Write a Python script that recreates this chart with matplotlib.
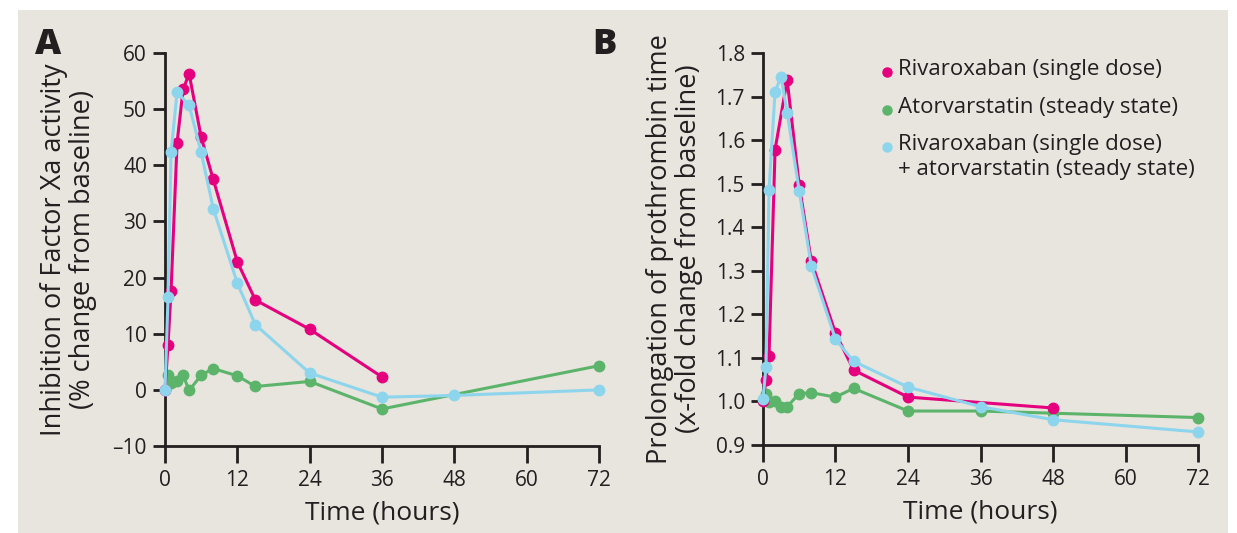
"""Rivaroxaban / atorvastatin interaction: Factor Xa inhibition and prothrombin time."""

import matplotlib

matplotlib.use("Agg")
import matplotlib.pyplot as plt
from matplotlib.patches import Rectangle

plt.rcParams["font.family"] = ["Open Sans", "DejaVu Sans"]

# Panel A: inhibition of Factor Xa activity (% change from baseline)
riva_t_a = [0, 0.5, 1, 2, 3, 4, 6, 8, 12, 15, 24, 36]
riva_a = [0, 8, 17.6, 44, 53.5, 56.3, 45, 37.5, 22.8, 16, 10.8, 2.3]
ator_t_a = [0.5, 1, 2, 3, 4, 6, 8, 12, 15, 24, 36, 72]
ator_a = [2.7, 1.3, 1.5, 2.6, -0.1, 2.6, 3.8, 2.5, 0.6, 1.5, -3.4, 4.3]
combo_t_a = [0, 0.5, 1, 2, 4, 6, 8, 12, 15, 24, 36, 48, 72]
combo_a = [0, 16.6, 42.3, 53, 50.7, 42.3, 32.3, 19, 11.6, 3, -1.3, -1, 0]

# Panel B: prothrombin time (x-fold change from baseline)
riva_t_b = [0, 0.5, 1, 2, 4, 6, 8, 12, 15, 24, 48]
riva_b = [1.0, 1.05, 1.105, 1.578, 1.738, 1.496, 1.322, 1.157, 1.072, 1.010, 0.985]
ator_t_b = [0.5, 1, 2, 3, 4, 6, 8, 12, 15, 24, 36, 48, 72]
ator_b = [1.016, 0.999, 1.002, 0.988, 0.988, 1.018, 1.020, 1.010, 1.030, 0.978, 0.978, 0.973, 0.963]
combo_t_b = [0, 0.5, 1, 2, 3, 4, 6, 8, 12, 15, 24, 36, 48, 72]
combo_b = [1.005, 1.080, 1.486, 1.711, 1.746, 1.663, 1.483, 1.311, 1.143, 1.092, 1.033, 0.988, 0.958, 0.930]

x_ticks = [0, 12, 24, 36, 48, 60, 72]
y_ticks_a = [-10, 0, 10, 20, 30, 40, 50, 60]
y_ticks_b = [0.9, 1.0, 1.1, 1.2, 1.3, 1.4, 1.5, 1.6, 1.7, 1.8]

legend_labels = [
    "Rivaroxaban (single dose)",
    "Atorvarstatin (steady state)",
    "Rivaroxaban (single dose)\n+ atorvarstatin (steady state)",
]

PINK = "#E5007D"
GREEN = "#5CB46B"
CYAN = "#8DD5EC"
BG = "#E8E4DE"
INK = "#231F20"

fig = plt.figure(figsize=(12.37, 5.33), dpi=100, facecolor="white")
fig.patches.append(
    Rectangle((18 / 1237, 0), 1 - 27 / 1237, 1 - 10 / 533,
              transform=fig.transFigure, facecolor=BG, edgecolor="none", zorder=-10)
)

ax_a = fig.add_axes([0.1334, 0.1632, 0.3508, 0.7374])
ax_b = fig.add_axes([0.6168, 0.1651, 0.3517, 0.7355])


def style_axis(ax, yticks, ylim):
    ax.set_facecolor("none")
    ax.set_xlim(0, 72)
    ax.set_ylim(*ylim)
    ax.set_xticks(x_ticks)
    ax.set_yticks(yticks)
    for side in ("top", "right"):
        ax.spines[side].set_visible(False)
    for side in ("left", "bottom"):
        ax.spines[side].set_linewidth(2.0)
        ax.spines[side].set_color(INK)
    ax.tick_params(direction="out", width=2.0, color=INK,
                   labelsize=15, labelcolor=INK)
    ax.tick_params(axis="x", length=12, pad=5)
    ax.tick_params(axis="y", length=9, pad=4)
    ax.set_xlabel("Time (hours)", fontsize=19, color=INK, labelpad=7)


def draw(ax, t, v, color, z):
    ax.plot(t, v, color=color, lw=2.2, marker="o", ms=7.5,
            clip_on=False, zorder=z)


style_axis(ax_a, y_ticks_a, (-10, 60))
ax_a.set_yticklabels(["\u201310" if v < 0 else str(v) for v in y_ticks_a])
draw(ax_a, ator_t_a, ator_a, GREEN, 3)
draw(ax_a, riva_t_a, riva_a, PINK, 4)
draw(ax_a, combo_t_a, combo_a, CYAN, 5)
ax_a.set_ylabel("Inhibition of Factor Xa activity\n(% change from baseline)",
                fontsize=19.5, color=INK, linespacing=1.05, labelpad=11)

style_axis(ax_b, y_ticks_b, (0.9, 1.8))
ax_b.set_yticklabels([f"{v:.1f}" for v in y_ticks_b])
draw(ax_b, ator_t_b, ator_b, GREEN, 3)
draw(ax_b, riva_t_b, riva_b, PINK, 4)
draw(ax_b, combo_t_b, combo_b, CYAN, 5)
ax_b.set_ylabel("Prolongation of prothrombin time\n(x-fold change from baseline)",
                fontsize=19.5, color=INK, linespacing=1.05, labelpad=9)

fig.text(35 / 1237, 1 - 45 / 533, "A", fontsize=26, fontweight="heavy",
         color=INK, va="center", ha="left")
fig.text(592 / 1237, 1 - 45 / 533, "B", fontsize=26, fontweight="heavy",
         color=INK, va="center", ha="left")

# legend, drawn by hand so the marker sits on the first text line
legend_colors = [PINK, GREEN, CYAN]
legend_y = [72, 110, 147]
for label, color, ly in zip(legend_labels, legend_colors, legend_y):
    yf = 1 - ly / 533
    fig.lines.append(
        plt.Line2D([887 / 1237], [yf], marker="o", ms=6.5, color=color,
                   lw=0, transform=fig.transFigure)
    )
    fig.text(898 / 1237, yf + 13 / 533, label, fontsize=16, color=INK,
             va="top", ha="left", linespacing=1.22,
             transform=fig.transFigure)

fig.savefig("out.png", dpi=100, facecolor=fig.get_facecolor())
